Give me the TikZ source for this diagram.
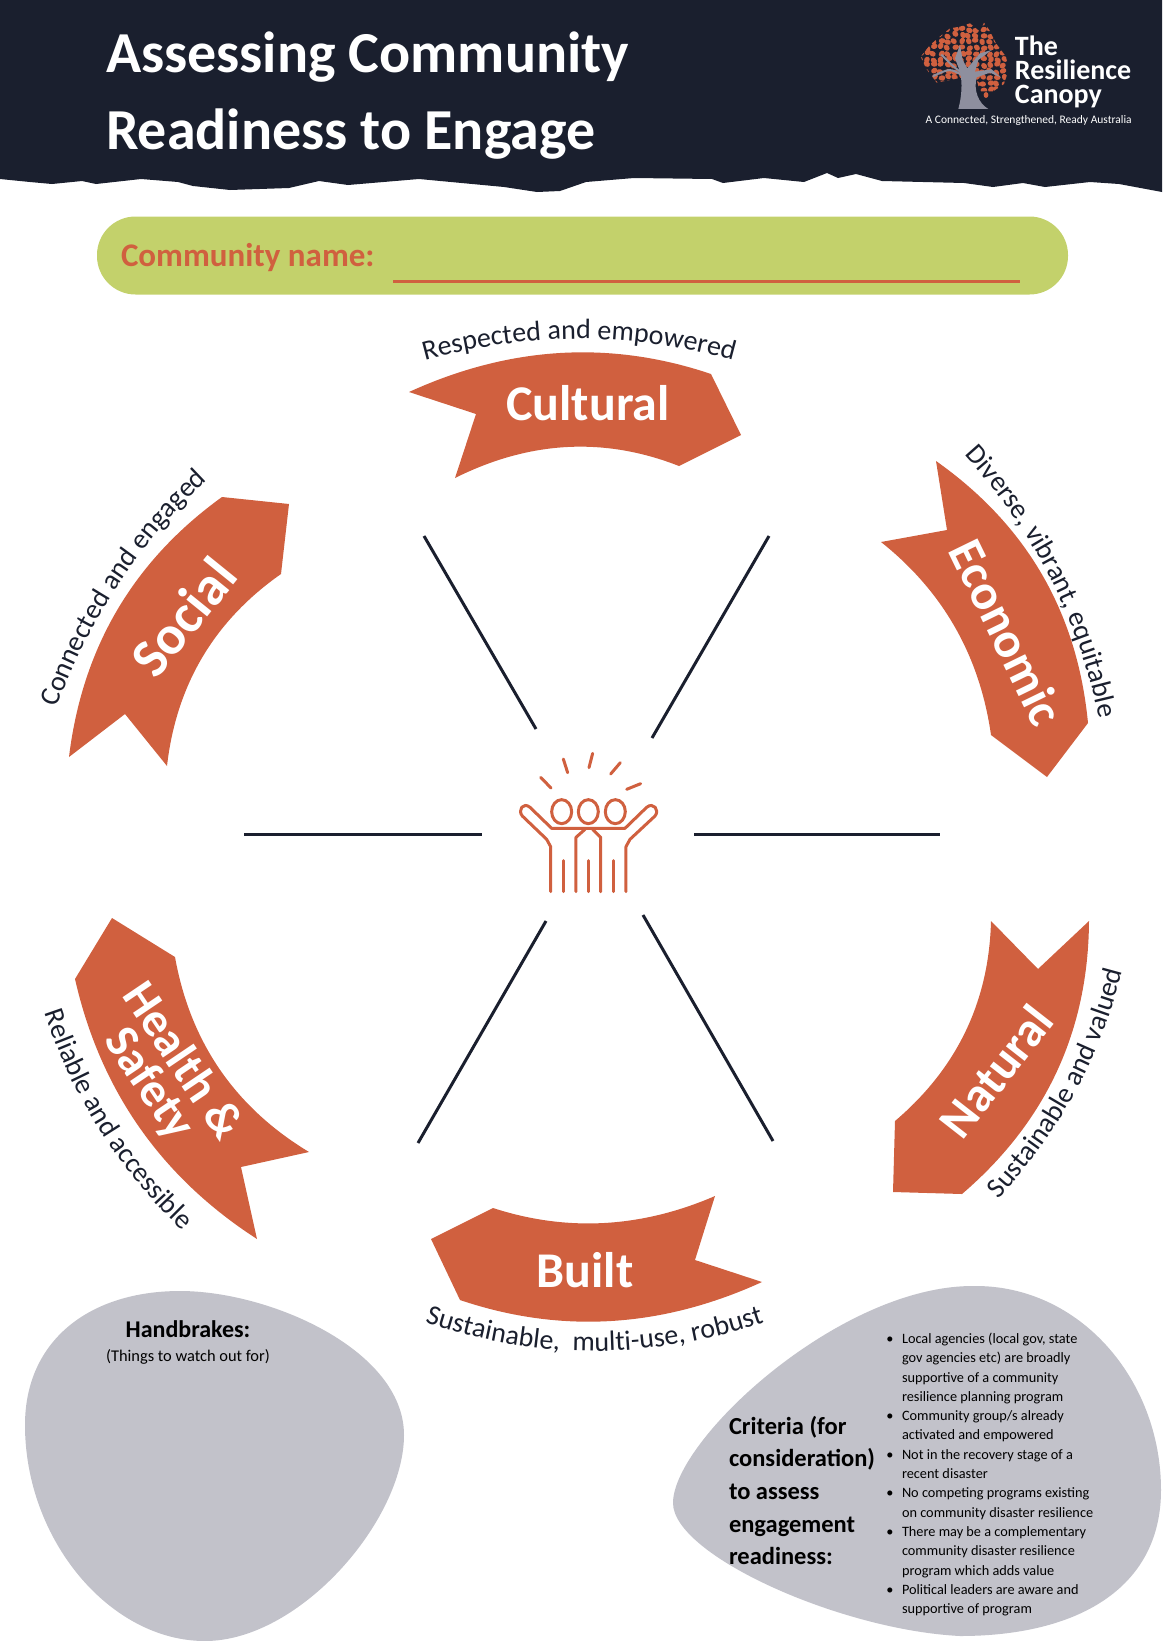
\documentclass[tikz,border=0pt]{standalone}
\usepackage{fontspec}
\setmainfont{Carlito}
\usetikzlibrary{decorations.text}
\definecolor{navy}{HTML}{1A1F2E}
\definecolor{rust}{HTML}{D0603F}
\definecolor{lime}{HTML}{C3D16B}
\definecolor{stone}{HTML}{C2C2CA}
\definecolor{bark}{HTML}{8E8F9E}
\newcommand{\capfont}{\fontsize{28}{28}\selectfont\color{navy}}
\newcommand{\critem}{\llap{\textbullet\hspace{8.5pt}}}
\tikzset{
  ribbon/.style={fill=rust},
  ribbonlabel/.style={text=white, inner sep=0pt, font=\fontsize{#1}{40}\selectfont\bfseries, align=center},
  ribbonlabel/.default=50,
  spoke/.style={draw=navy, line width=3pt},
  iconline/.style={draw=rust, line width=3pt, line cap=round, line join=round},
  caption/.style={decorate, decoration={text along path, text align=center, text={#1}}},
  plain/.style={inner sep=0pt, outer sep=0pt},
}
\begin{document}
\begin{tikzpicture}[x=1pt, y=-1pt]
  \useasboundingbox (0,0) rectangle (1162,1641);

  % Header (torn edge)
  \fill[navy] (0,0) -- (1162,0) -- (1162,192) -- (1119,184) -- (1090,182) -- (1045,187) -- (1023,183)
    -- (993,187) -- (964,183) -- (882,181) -- (856,174) -- (838,178) -- (827,173) -- (804,182)
    -- (764,178) -- (723,183) -- (712,179) -- (634,178) -- (586,182) -- (560,191) -- (537,192)
    -- (504,187) -- (419,179) -- (348,185) -- (319,181) -- (289,188) -- (230,190) -- (193,186)
    -- (178,182) -- (141,179) -- (96,184) -- (82,181) -- (52,184) -- (30,182) -- (0,179) -- cycle;
  \node[plain, anchor=base west, text=white, font=\fontsize{58}{58}\selectfont\bfseries] (titleone) at (106,72) {Assessing Community};
  \node[plain, anchor=base west, text=white, font=\fontsize{58}{58}\selectfont\bfseries] (titletwo) at (106,149) {Readiness to Engage};

  % Logo
  \begin{scope}[shift={(880,0)}, x=0.3333pt, y=-0.3333pt]
    \pgfmathsetseed{11}
    \begin{scope}
      \clip (122,170) -- (150,135) -- (185,105) -- (210,85) -- (240,80) -- (270,70) -- (300,95) -- (312,68)
        -- (328,90) -- (348,130) -- (378,170) -- (386,210) -- (372,252) -- (340,274) -- (300,274)
        -- (290,240) -- (250,232) -- (170,248) -- (138,205) -- cycle;
      \foreach \x in {120,141,...,390}
        \foreach \y in {70,88,...,280}
          \fill[rust, rotate around={70*rand:({\x},{\y})}] ({\x+4*rand},{\y+4*rand}) ellipse (10 and 8);
    \end{scope}
    \fill[rust] (318,285) ellipse (7 and 9);
    \fill[bark] (235,327) .. controls (245,290) and (248,250) .. (240,215) -- (225,175) -- (240,135) -- (248,180)
      -- (262,205) -- (300,160) -- (335,150) -- (295,180) -- (285,215) -- (335,208) -- (362,232) -- (330,218)
      -- (290,232) .. controls (280,270) and (295,310) .. (325,327) -- cycle;
    \draw[bark, line width=2pt, line cap=round] (240,215) .. controls (215,195) .. (185,165);
    \draw[bark, line width=2pt, line cap=round] (245,225) .. controls (210,205) .. (160,228);
    \node[plain, anchor=base west, text=white, font=\fontsize{28}{24}\selectfont\bfseries] (logoname) at (405,167) {The};
    \node[plain, anchor=base west, text=white, font=\fontsize{28}{24}\selectfont\bfseries] (logonametwo) at (405,240) {Resilience};
    \node[plain, anchor=base west, text=white, font=\fontsize{28}{24}\selectfont\bfseries] (logonamethree) at (405,312) {Canopy};
    \node[plain, anchor=base west, text=white, font=\fontsize{11.5}{12}\selectfont] (logotag) at (137,370) {A Connected, Strengthened, Ready Australia};
  \end{scope}

  % Community name bar
  \fill[lime, rounded corners=38.5pt] (97,216.5) rectangle (1068,294.5);
  \node[plain, anchor=base west, text=rust, font=\fontsize{33}{33}\selectfont\bfseries] (namelabel) at (121,266) {Community name:};
  \coordinate (namea) at (393,281);
  \coordinate (nameb) at (1020,281);
  \draw[rust, line width=3pt] (namea) -- (nameb);

  % Spokes
  \coordinate (culta) at (424,536);  \coordinate (cultb) at (536,729);
  \coordinate (econa) at (769,536);  \coordinate (econb) at (652,738);
  \coordinate (soca) at (244,834);   \coordinate (socb) at (482,834);
  \coordinate (nata) at (694,834);   \coordinate (natb) at (940,834);
  \coordinate (heala) at (546,921);  \coordinate (healb) at (418,1143);
  \coordinate (buila) at (643,915);  \coordinate (builb) at (773,1141);
  \foreach \a/\b in {culta/cultb, econa/econb, soca/socb, nata/natb, heala/healb, buila/builb}
    \draw[spoke] (\a) -- (\b);

  % People icon
  \begin{scope}[shift={(480,730)}, x=0.3333pt, y=-0.3333pt]
    \draw[iconline] (182,142) -- (213,174);
    \draw[iconline] (250,87) -- (263,128);
    \draw[iconline] (338,70) -- (327,113);
    \draw[iconline] (421,98) -- (392,132);
    \draw[iconline] (482,161) -- (440,178);
    \draw[iconline] (245,245) ellipse (30 and 36);
    \draw[iconline] (325,245) ellipse (30 and 36);
    \draw[iconline] (406,245) ellipse (30 and 36);
    \draw[iconline] (212,485) -- (212,350) -- (200,328) -- (127,258) .. controls (112,240) and (130,215) .. (150,232)
      -- (215,295) -- (435,295) -- (500,232) .. controls (520,215) and (540,240) .. (525,258) -- (450,328) -- (438,350) -- (438,485);
    \draw[iconline] (288,485) -- (288,322) -- (315,298);
    \draw[iconline] (362,485) -- (362,322) -- (338,298);
    \draw[iconline] (250,392) -- (250,485);
    \draw[iconline] (325,392) -- (325,485);
    \draw[iconline] (400,392) -- (400,485);
  \end{scope}

  % Cultural
  \fill[ribbon] (409,392) .. controls (509.7,346) and (610.3,340) .. (711,374) -- (741,435) -- (679,466)
    .. controls (604.3,436.7) and (529.7,440.7) .. (455,478) -- (476,414) -- cycle;
  \node[ribbonlabel] (cultural) at (588,403) {Cultural};
  \path[caption={|\capfont|Respected and empowered}] (415,363) .. controls (524.3,331) and (633.7,331) .. (743,363);

  % Economic
  \fill[ribbon] (936,461) .. controls (1026.7,525) and (1077.3,612.3) .. (1088,723) -- (1047,777) -- (991,735)
    .. controls (979.7,655.7) and (943,591.3) .. (881,542) -- (947,530) -- cycle;
  \node[ribbonlabel] [rotate=-64] (economic) at (1007,632) {Economic};
  \path[caption={|\capfont|Diverse, vibrant, equitable}] (962,452) .. controls (1033,529) and (1079,619) .. (1100,722);

  % Natural
  \fill[ribbon] (991,921) -- (1038,969) -- (1089,921) .. controls (1088.3,1031) and (1046,1122) .. (962,1194)
    -- (893,1192) -- (895,1121) .. controls (957,1068.3) and (989,1001.7) .. (991,921);
  \node[ribbonlabel=49, rotate=52] (natural) at (996,1071) {Natural};
  \path[caption={|\capfont|Sustainable and valued}] (992,1206) .. controls (1057.3,1138) and (1101.7,1058) .. (1125,962);

  % Built
  \fill[ribbon] (431,1239) -- (493,1208) .. controls (567,1232) and (641,1228) .. (715,1196) -- (695,1260) -- (762,1282)
    .. controls (661.3,1328) and (560.7,1334) .. (460,1300) -- cycle;
  \node[ribbonlabel] (built) at (585,1270) {Built};
  \path[caption={|\capfont|Sustainable, \ multi-use, robust}] (412,1318) .. controls (534.3,1362) and (654,1362) .. (777,1318);

  % Health and Safety
  \fill[ribbon] (112,918) -- (175,957) .. controls (190.3,1042.3) and (235,1107.3) .. (309,1152) -- (241,1167) -- (257,1239)
    .. controls (161,1177) and (100.3,1090.3) .. (75,979) -- cycle;
  \node[ribbonlabel=48, rotate=-56] (health) at (165,1073) {Health \&\\Safety};
  \path[caption={|\capfont|Reliable and accessible}] (41,1001) .. controls (70,1095) and (120,1175) .. (192,1239);

  % Social
  \fill[ribbon] (222,497) -- (289,504) -- (281,574) .. controls (214.3,620.7) and (176.3,684.7) .. (167,766) -- (125,714) -- (69,757)
    .. controls (82.3,647.7) and (133.3,561) .. (222,497);
  \node[ribbonlabel=55, rotate=51] (social) at (183,617) {Social};
  \path[caption={|\capfont|Connected and engaged}] (54,716) .. controls (87,622) and (140,541) .. (214,474);

  % Handbrakes (left)
  \fill[stone] (180,1291) .. controls (270,1291) and (404,1350) .. (404,1435) .. controls (404,1520) and (300,1641) .. (205,1641)
    .. controls (110,1641) and (25,1540) .. (25,1425) .. controls (25,1340) and (90,1291) .. (180,1291);
  \node[plain, text=black, font=\fontsize{24}{24}\selectfont\bfseries] (handbrakes) at (188,1329) {Handbrakes:};
  \node[plain, text=black, font=\fontsize{16.4}{16}\selectfont] (watchout) at (188,1357) {(Things to watch out for)};

  % Criteria (right)
  \fill[stone] (974,1286) .. controls (1080,1285) and (1161,1380) .. (1161,1490) .. controls (1161,1590) and (1075,1636) .. (960,1636)
    .. controls (840,1630) and (673,1555) .. (673,1503) .. controls (673,1440) and (840,1285) .. (974,1286);
  \node[plain, anchor=north west, text=black, align=left, font=\fontsize{24.5}{32.6}\selectfont\bfseries] (criteria) at (729,1416) {Criteria (for\\consideration)\\to assess\\engagement\\readiness:};
  \node[plain, anchor=north west, text=black, align=left, font=\fontsize{14.3}{19.3}\selectfont] (criterialist) at (902,1333) {\critem Local agencies (local gov, state\\gov agencies etc) are broadly\\supportive of a community\\resilience planning program\\\critem Community group/s already\\activated and empowered\\\critem Not in the recovery stage of a\\recent disaster\\\critem No competing programs existing\\on community disaster resilience\\\critem There may be a complementary\\community disaster resilience\\program which adds value\\\critem Political leaders are aware and\\supportive of program};
\end{tikzpicture}
\end{document}
